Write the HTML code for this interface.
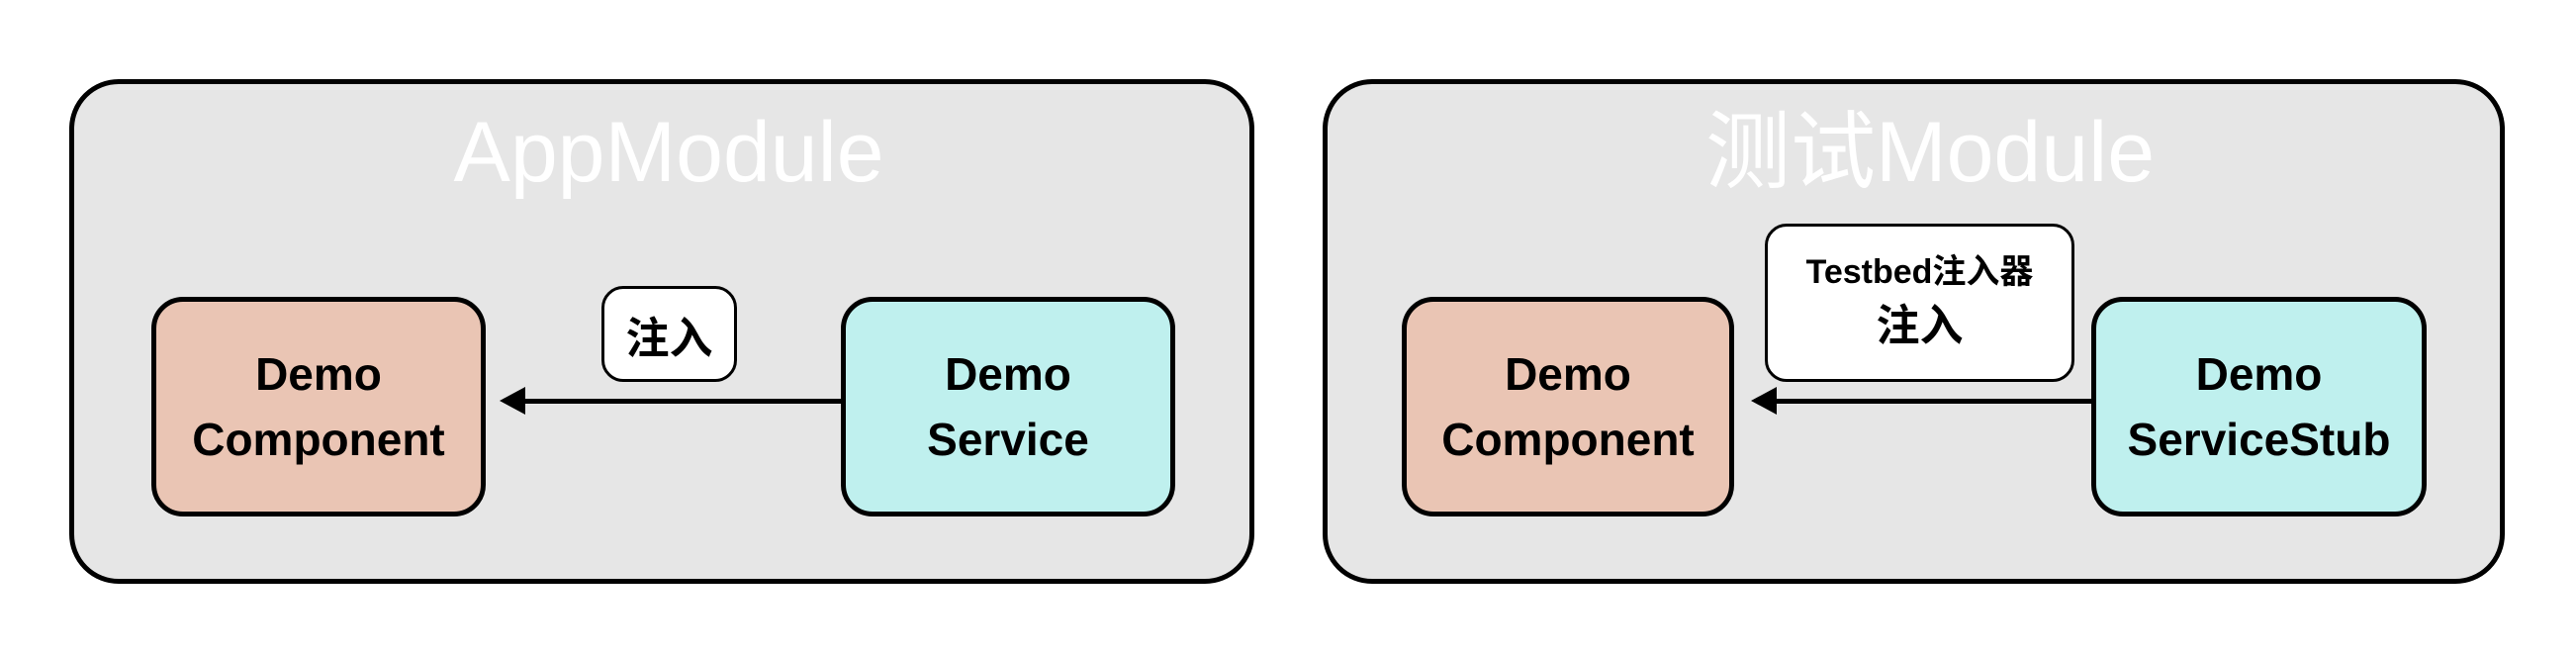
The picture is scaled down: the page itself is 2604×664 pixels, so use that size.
<!DOCTYPE html>
<html><head><meta charset="utf-8"><style>
body{margin:0;width:2604px;height:664px;background:#fff;position:relative;overflow:hidden;font-family:"Liberation Sans","Noto Sans CJK SC",sans-serif}
.o{position:absolute;box-sizing:border-box;background:#e6e6e6;border:5px solid #000;border-radius:50px;top:80px;height:510px}
.t{position:absolute;color:#fff;font-size:86px;line-height:100px;height:100px;top:104px;text-align:center;width:800px}
.b{position:absolute;box-sizing:border-box;border:5px solid #000;border-radius:32px;top:300px;height:222px;display:flex;align-items:center;justify-content:center;text-align:center;font-size:46px;font-weight:bold;line-height:66px}
.c{background:#eac5b4}.s{background:#bff0ee}
.l{position:absolute;box-sizing:border-box;background:#fff;border:3px solid #000;border-radius:22px;display:flex;flex-direction:column;align-items:center;justify-content:center}
.ln{position:absolute;height:5px;background:#000;top:403px}
.ah{position:absolute;top:391px;width:0;height:0;border-top:14px solid transparent;border-bottom:14px solid transparent;border-right:26px solid #000}
</style></head><body>
<div class="o" style="left:70px;width:1198px"></div>
<div class="t" style="left:276px">AppModule</div>
<div class="b c" style="left:153px;width:338px">Demo<br>Component</div>
<div class="b s" style="left:850px;width:338px">Demo<br>Service</div>
<div class="l" style="left:608px;top:289px;width:137px;height:97px;font-size:44px;font-weight:bold">注入</div>
<div class="ln" style="left:526px;width:326px"></div>
<div class="ah" style="left:505px"></div>

<div class="o" style="left:1337px;width:1195px"></div>
<div class="t" style="left:1551px">测试Module</div>
<div class="b c" style="left:1417px;width:336px">Demo<br>Component</div>
<div class="b s" style="left:2114px;width:339px">Demo<br>ServiceStub</div>
<div class="l" style="left:1784px;top:226px;width:313px;height:160px"><div style="font-size:34px;line-height:48px;font-weight:bold">Testbed注入器</div><div style="font-size:44px;line-height:62px;font-weight:bold">注入</div></div>
<div class="ln" style="left:1790px;width:326px"></div>
<div class="ah" style="left:1770px"></div>
</body></html>
